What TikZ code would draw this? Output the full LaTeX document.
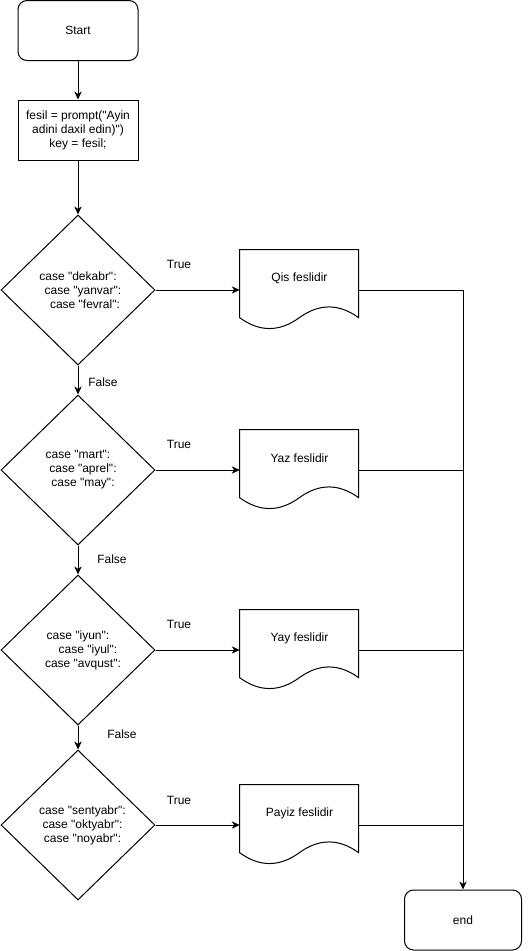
\documentclass[tikz,border=0pt]{standalone}
\usepackage{fontspec}
\setmainfont{Liberation Sans}[Ligatures=TeXOff]
\usetikzlibrary{arrows.meta,shapes.geometric}
\tikzset{
  line/.style={draw=black, line width=0.75pt},
  txt/.style={font=\fontsize{9pt}{10.5pt}\selectfont, inner sep=0pt, align=center},
  terminal/.style={line, rounded corners=6.75pt, minimum width=90pt, minimum height=45pt, txt},
  procbox/.style={line, minimum width=90pt, minimum height=45pt, txt},
  decision/.style={line, diamond, inner sep=0pt, minimum width=115.5pt, minimum height=112.5pt},
  docbox/.style={minimum width=89.25pt, minimum height=60pt, inner sep=0pt},
  arr/.style={line, -{Stealth[length=6pt,width=5.5pt,inset=1.8pt]}},
}
\newcommand\docshape[1]{%
  \begin{scope}[shift={(#1.north west)}]
    \draw[line] (0,0) -- (119,0) -- (119,68)
      .. controls (99.17,53.6) and (79.33,53.6) .. (59.5,68)
      .. controls (39.67,82.4) and (19.83,82.4) .. (0,68) -- cycle;
  \end{scope}}
\begin{document}
\begin{tikzpicture}[x=0.75pt,y=-0.75pt]
\useasboundingbox (0,0) rectangle (531,951);

\node[terminal] (start) at (78,30.5) {Start};
\node[procbox] (init) at (78,130) {fesil = prompt("Ayin\\adini daxil edin)")\\key = fesil;};

% decisions
\node[decision] (d1) at (78,290) {};
\node[txt] (d1t) at (78,290) {case "dekabr":\\\hspace*{7.5pt}case "yanvar":\\\hspace*{10.5pt}case "fevral":};
\node[decision] (d2) at (78,470) {};
\node[txt] (d2t) at (78,470) {case "mart":\\\hspace*{7.5pt}case "aprel":\\\hspace*{7.5pt}case "may":};
\node[decision] (d3) at (78,650) {};
\node[txt] (d3t) at (78,650) {case "iyun":\\\hspace*{15pt}case "iyul":\\\hspace*{7.5pt}case "avqust":};
\node[decision] (d4) at (78,825) {};
\node[txt] (d4t) at (82.5,825) {case "sentyabr":\\case "oktyabr":\\case "noyabr":};

% documents
\node[docbox] (doc1) at (299.5,290) {};
\node[docbox] (doc2) at (299.5,470) {};
\node[docbox] (doc3) at (299.5,650) {};
\node[docbox] (doc4) at (299.5,825) {};
\docshape{doc1}
\docshape{doc2}
\docshape{doc3}
\docshape{doc4}
\node[txt] (doc1t) at (299.5,278) {Qis feslidir};
\node[txt] (doc2t) at (299.5,458) {Yaz feslidir};
\node[txt] (doc3t) at (299.5,638) {Yay feslidir};
\node[txt] (doc4t) at (299.5,813) {Payiz feslidir};

\node[terminal, minimum width=87.75pt] (end) at (463,920) {end};

% connectors
\draw[arr] (start) -- (init);
\draw[arr] (init) -- (d1);
\draw[arr] (d1) -- (d2);
\draw[arr] (d2) -- (d3);
\draw[arr] (d3) -- (d4);
\draw[arr] (d1.east) -- (doc1.west);
\draw[arr] (d2.east) -- (doc2.west);
\draw[arr] (d3.east) -- (doc3.west);
\draw[arr] (d4.east) -- (doc4.west);

\coordinate (j1) at (463,290);
\draw[arr] (doc1.east) -- (j1) -- (end.north);
\draw[line] (doc2.east) -- (doc2.east -| j1);
\draw[line] (doc3.east) -- (doc3.east -| j1);
\draw[line] (doc4.east) -- (doc4.east -| j1);

% labels
\node[txt] (t1) at (179,264) {True};
\node[txt] (t2) at (179,444) {True};
\node[txt] (t3) at (179,624) {True};
\node[txt] (t4) at (179,800) {True};
\node[txt] (f1) at (103,382) {False};
\node[txt] (f2) at (112,559) {False};
\node[txt] (f3) at (122,734) {False};
\end{tikzpicture}
\end{document}
